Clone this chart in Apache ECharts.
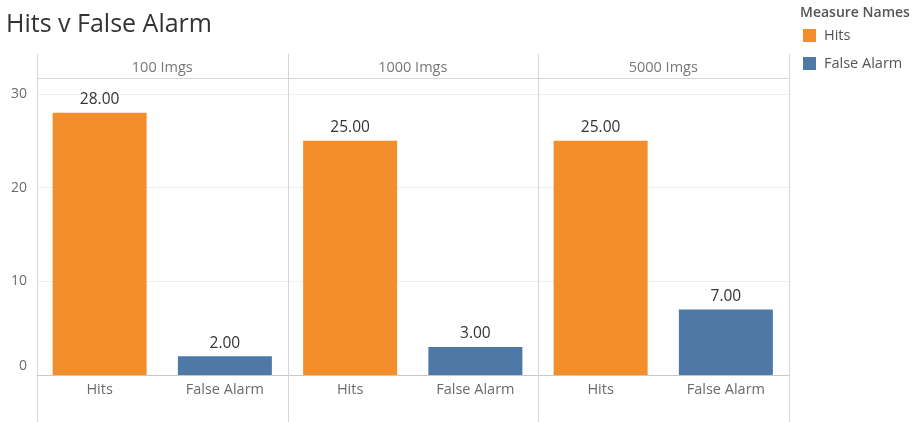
<!DOCTYPE html>
<html>
<head>
<meta charset="utf-8">
<script src="https://cdn.jsdelivr.net/npm/echarts@6/dist/echarts.min.js"></script>
<style>
  html, body { margin: 0; padding: 0; background: #fff; }
  #chart { width: 917px; height: 422px; }
</style>
</head>
<body>
<div id="chart"></div>
<script>
// Panels (image set sizes), measures and their values
const panels = ['100 Imgs', '1000 Imgs', '5000 Imgs'];
const measures = ['Hits', 'False Alarm'];
const hits = [28, 25, 25];
const falseAlarm = [2, 3, 7];
const yTicks = [0, 10, 20, 30];

const colors = { 'Hits': '#f28e2b', 'False Alarm': '#4e79a7' };
const FONT = '"Open Sans", sans-serif';

// panel geometry
const panelLeft = 37, panelWidth = 250.5, plotTop = 94, plotBottom = 375;
const frameTop = 54, headerLine = 78;

const grids = [], xAxes = [], yAxes = [], series = [], graphics = [];

panels.forEach((p, i) => {
  const left = panelLeft + panelWidth * i;
  grids.push({ left: left, top: plotTop, width: panelWidth, height: plotBottom - plotTop });
  xAxes.push({
    type: 'category', gridIndex: i, data: measures,
    axisLine: { show: true, lineStyle: { color: '#c8c8c8', width: 1 } },
    axisTick: { show: false },
    axisLabel: { color: '#6b6b6b', fontSize: 14.5, fontFamily: FONT, margin: 7 }
  });
  yAxes.push({
    type: 'value', gridIndex: i, min: 0, max: yTicks[yTicks.length - 1], interval: 10,
    axisLine: { show: false }, axisTick: { show: false },
    axisLabel: {
      show: i === 0, color: '#6b6b6b', fontSize: 14, fontFamily: FONT, margin: 10,
      // the zero label sits a little above the baseline
      formatter: (v) => v === 0 ? '{zero|0}' : String(v),
      rich: { zero: { color: '#6b6b6b', fontSize: 14, fontFamily: FONT, padding: [0, 0, 18, 0] } }
    },
    splitLine: { show: true, lineStyle: { color: '#f0f0f0', width: 1 } }
  });
  const label = {
    show: true, position: 'top', distance: 5, color: '#333', fontSize: 15.5, fontFamily: FONT,
    formatter: (d) => Number(d.value).toFixed(2)
  };
  series.push({
    name: 'Hits', type: 'bar', xAxisIndex: i, yAxisIndex: i,
    data: [hits[i], '-'], barWidth: 94, barGap: '-100%',
    itemStyle: { color: colors['Hits'] }, label: label, silent: true
  });
  series.push({
    name: 'False Alarm', type: 'bar', xAxisIndex: i, yAxisIndex: i,
    data: ['-', falseAlarm[i]], barWidth: 94, barGap: '-100%',
    itemStyle: { color: colors['False Alarm'] }, label: label, silent: true
  });
  // panel header text
  graphics.push({
    type: 'text', x: left + panelWidth / 2, y: 68,
    style: { text: p, fill: '#777', fontSize: 14.5, fontFamily: FONT,
             textAlign: 'center', textVerticalAlign: 'middle' },
    z: 10
  });
});

// panel frame: vertical dividers and header rule
for (let k = 0; k <= panels.length; k++) {
  const x = Math.round(panelLeft + panelWidth * k) + 0.5;
  graphics.push({
    type: 'line', shape: { x1: x, y1: frameTop, x2: x, y2: 422 },
    style: { stroke: '#d6d6d6', lineWidth: 1 }, z: 10
  });
}
graphics.push({
  type: 'line',
  shape: { x1: panelLeft, y1: headerLine + 0.5, x2: panelLeft + panelWidth * panels.length, y2: headerLine + 0.5 },
  style: { stroke: '#d6d6d6', lineWidth: 1 }, z: 10
});

const chart = echarts.init(document.getElementById('chart'), null, { renderer: 'canvas' });
chart.setOption({
  animation: false,
  title: [
    { text: 'Hits v False Alarm', left: 1, top: 7,
      textStyle: { color: '#333', fontSize: 25, fontWeight: 'normal', fontFamily: FONT } },
    { text: 'Measure Names', left: 795, top: 1,
      textStyle: { color: '#555', fontSize: 14, fontWeight: 600, fontFamily: FONT } }
  ],
  legend: {
    data: measures, orient: 'vertical', left: 798, top: 23,
    itemWidth: 13, itemHeight: 13, itemGap: 13, icon: 'rect',
    textStyle: { color: '#555', fontSize: 14.5, fontFamily: FONT, padding: [0, 0, 0, 3] },
    selectedMode: false
  },
  grid: grids,
  xAxis: xAxes,
  yAxis: yAxes,
  series: series,
  graphic: graphics
});
</script>
</body>
</html>
